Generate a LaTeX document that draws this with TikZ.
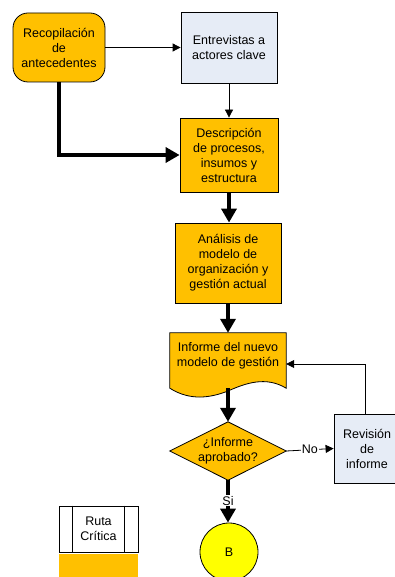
\documentclass[tikz,border=0pt]{standalone}
\usepackage{fontspec}
\setmainfont{Liberation Sans}
\usetikzlibrary{arrows.meta,backgrounds,calc}
\definecolor{amber}{HTML}{FFC000}
\definecolor{paleblue}{HTML}{E6ECF6}
\definecolor{lemon}{HTML}{FFFF00}
\tikzset{
  base/.style={draw=black, line width=0.8pt, align=center, inner sep=0pt,
    font=\fontsize{12.5}{15}\selectfont},
  task/.style={base, fill=amber, rectangle},
  aux/.style={base, fill=paleblue, rectangle},
  thin/.style={draw=black, line width=0.8pt, -{Triangle[length=8pt,width=8pt]}},
  thick/.style={draw=black, line width=4pt, -{Triangle[length=14pt,width=15pt]}},
  lbl/.style={fill=white, inner sep=1pt, font=\fontsize{12.5}{15}\selectfont}
}
\begin{document}
\begin{tikzpicture}[x=1pt, y=-1pt]
\useasboundingbox (0,0) rectangle (395,577);

% process boxes
\node[task, rounded corners=15pt, minimum width=92pt, minimum height=69pt]
  (rec) at (59,47.5) {Recopilación\\de\\antecedentes};
\node[aux, minimum width=96pt, minimum height=71pt]
  (ent) at (229,47.5) {Entrevistas a\\actores clave};
\node[task, minimum width=98pt, minimum height=74pt]
  (des) at (229,155) {Descripción\\de procesos,\\insumos y\\estructura};
\node[task, minimum width=106pt, minimum height=80pt]
  (ana) at (228,263) {Análisis de\\modelo de\\organización y\\gestión actual};

% document shape: frame node plus wavy outline behind it
\node[rectangle, minimum width=116pt, minimum height=55pt, inner sep=0pt]
  (inf) at (228,360.5) {};
\node[base, draw=none] (inftext) at (228,355.5) {Informe del nuevo\\modelo de gestión};
\begin{pgfonlayer}{background}
  \draw[fill=amber, line width=0.8pt]
    (inf.north west) -- (inf.north east) -- (inf.south east)
    .. controls (266,376) and (246,383) .. (228,391)
    .. controls (210,398) and (190,401) .. (inf.south west) -- cycle;
\end{pgfonlayer}

% decision
\node[rectangle, minimum width=116pt, minimum height=58pt, inner sep=0pt]
  (dia) at (228,451) {};
\begin{pgfonlayer}{background}
  \draw[fill=amber, line width=0.8pt]
    (dia.north) -- (dia.east) -- (dia.south) -- (dia.west) -- cycle;
\end{pgfonlayer}
\node[base, draw=none] (diatext) at (228,451) {¿Informe\\aprobado?};

\node[aux, minimum width=66pt, minimum height=69pt]
  (rev) at (367,448.5) {Revisión\\de\\informe};

% connector target
\node[base, circle, fill=lemon, minimum size=58pt] (bconn) at (229,552) {B};

% legend
\node[base, fill=white, minimum width=79pt, minimum height=46pt]
  (leg) at (98.5,529) {Ruta\\Crítica};
\draw[line width=0.8pt] ([xshift=14pt]leg.north west) -- ([xshift=14pt]leg.south west);
\draw[line width=0.8pt] ([xshift=-14pt]leg.north east) -- ([xshift=-14pt]leg.south east);
\node[rectangle, fill=amber, minimum width=79pt, minimum height=30pt, inner sep=0pt,
  anchor=north] (legbar) at ([yshift=-1pt]leg.south) {};

% connectors
\draw[thin] (rec.east) -- (ent.west);
\draw[thin] (ent.south) -- (ent.south |- des.north);
\draw[thick] (rec.south) |- (des.west);
\draw[thick] (des.south) -- (des.south |- ana.north);
\draw[thick] (ana.south) -- (ana.south |- inf.north);
\draw[thick] (inf.south) -- (dia.north);
\draw[thin] (dia.east) -- node[lbl] (nolbl) {No} (rev.west);
\draw[thin] ([xshift=-2pt]rev.north) |- ([yshift=-3.5pt]inf.east);
\draw[thick] (dia.south) -- node[lbl, pos=0.48] (silbl) {Si} (dia.south |- bconn.north);
\end{tikzpicture}
\end{document}
